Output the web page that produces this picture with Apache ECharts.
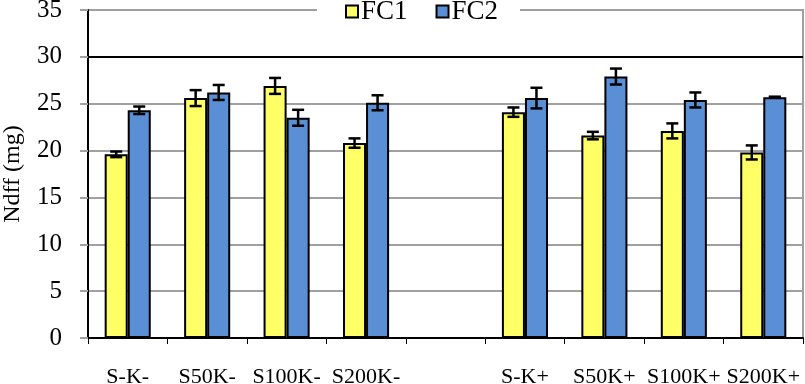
<!DOCTYPE html>
<html>
<head>
<meta charset="utf-8">
<script src="https://cdn.jsdelivr.net/npm/echarts@6/dist/echarts.min.js"></script>
<style>
html,body{margin:0;padding:0;background:#fff;}
#chart{width:805px;height:384px;}
</style>
</head>
<body>
<div id="chart"></div>
<script>
var categories = ['S-K-', 'S50K-', 'S100K-', 'S200K-', '', 'S-K+', 'S50K+', 'S100K+', 'S200K+'];
var fc1 = [19.6, 25.6, 26.9, 20.8, null, 24.1, 21.6, 22.1, 19.8];
var fc2 = [24.3, 26.2, 23.5, 25.1, null, 25.6, 27.9, 25.4, 25.7];
var fc1Err = [0.3, 0.85, 0.85, 0.5, null, 0.5, 0.4, 0.8, 0.75];
var fc2Err = [0.4, 0.8, 0.85, 0.8, null, 1.1, 0.85, 0.8, 0.05];
var yTicks = [0, 5, 10, 15, 20, 25, 30, 35];

var BAR = 0.29; // bar width share of a category

function errData(vals, errs) {
    var out = [];
    for (var i = 0; i < vals.length; i++) {
        if (vals[i] == null) continue;
        out.push([i, vals[i] - errs[i], vals[i] + errs[i]]);
    }
    return out;
}

function errRender(side) {
    return function (params, api) {
        var band = api.size([1, 0])[0];
        var lo = api.coord([api.value(0), api.value(1)]);
        var hi = api.coord([api.value(0), api.value(2)]);
        var x = lo[0] + side * band * BAR / 2;
        var cap = 6;
        var st = {stroke: '#000', lineWidth: 2.5};
        return {
            type: 'group',
            children: [
                {type: 'line', shape: {x1: x, y1: lo[1], x2: x, y2: hi[1]}, style: st},
                {type: 'line', shape: {x1: x - cap, y1: lo[1], x2: x + cap, y2: lo[1]}, style: st},
                {type: 'line', shape: {x1: x - cap, y1: hi[1], x2: x + cap, y2: hi[1]}, style: st}
            ]
        };
    };
}

var gridColors = yTicks.map(function (t) { return t === 30 ? '#000' : '#a0a0a0'; });

var myChart = echarts.init(document.getElementById('chart'));
var option = {
    backgroundColor: '#fff',
    animation: false,
    textStyle: {fontFamily: 'Liberation Serif'},
    legend: {
        data: ['FC1', 'FC2'],
        top: -2,
        left: 317,
        itemWidth: 12,
        itemHeight: 12,
        itemGap: 28,
        backgroundColor: '#fff',
        padding: [0, 22, 0, 28],
        z: 10,
        textStyle: {fontFamily: 'Liberation Serif', fontSize: 27, color: '#000', padding: [0, 0, 0, -2]},
        icon: 'rect',
        itemStyle: {borderColor: '#000', borderWidth: 2}
    },
    grid: {left: 88, right: 2, top: 10, bottom: 46, outerBoundsMode: 'none', show: true, borderColor: '#a0a0a0', borderWidth: 2},
    xAxis: {
        type: 'category',
        data: categories,
        axisLine: {lineStyle: {color: '#000', width: 2}},
        axisTick: {show: true, length: 6, inside: false, lineStyle: {color: '#000'}},
        axisLabel: {fontSize: 22, color: '#000', margin: 28, interval: 0}
    },
    yAxis: {
        type: 'value',
        min: 0,
        max: 35,
        interval: 5,
        name: 'Ndff (mg)',
        nameLocation: 'middle',
        nameGap: 63,
        nameTextStyle: {fontSize: 24, color: '#000', fontFamily: 'Liberation Serif'},
        axisLine: {show: true, lineStyle: {color: '#000', width: 2}},
        axisTick: {show: true, length: 8, lineStyle: {color: '#a0a0a0', width: 2}},
        axisLabel: {fontSize: 25, color: '#000', margin: 26},
        splitLine: {lineStyle: {color: gridColors, width: 2}}
    },
    series: [
        {
            name: 'FC1', type: 'bar', data: fc1,
            barWidth: (BAR * 100) + '%', barGap: '0%',
            itemStyle: {color: '#FFFF66', borderColor: '#000', borderWidth: 2}
        },
        {
            name: 'FC2', type: 'bar', data: fc2,
            barWidth: (BAR * 100) + '%', barGap: '0%',
            itemStyle: {color: '#5B8FD5', borderColor: '#000', borderWidth: 2}
        },
        {
            type: 'custom', data: errData(fc1, fc1Err),
            renderItem: errRender(-1), z: 5, silent: true
        },
        {
            type: 'custom', data: errData(fc2, fc2Err),
            renderItem: errRender(1), z: 5, silent: true
        }
    ]
};
myChart.setOption(option);
</script>
</body>
</html>
